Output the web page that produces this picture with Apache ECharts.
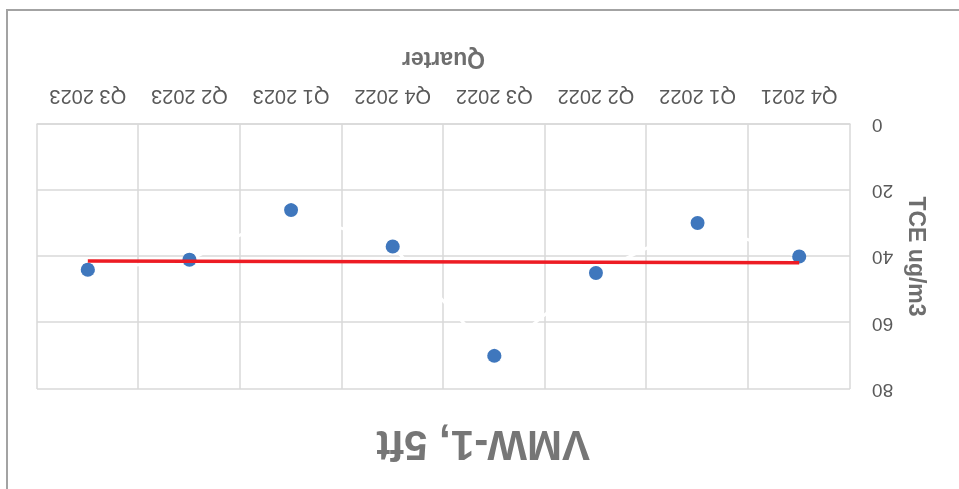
<!DOCTYPE html>
<html>
<head>
<meta charset="utf-8">
<script src="https://cdn.jsdelivr.net/npm/echarts@6/dist/echarts.min.js"></script>
<style>
  html, body { margin: 0; padding: 0; background: #fff; overflow: hidden; }
  #wrap { width: 959px; height: 489px; transform: rotate(180deg); transform-origin: 50% 50%; }
  #chart { width: 959px; height: 489px; }
</style>
</head>
<body>
<div id="wrap"><div id="chart"></div></div>
<script>
// Quarterly TCE readings at VMW-1, 5 ft
const quarters = ['Q4 2021', 'Q1 2022', 'Q2 2022', 'Q3 2022', 'Q4 2022', 'Q1 2023', 'Q2 2023', 'Q3 2023'];
const tceValues = [40.0, 29.9, 45.0, 70.0, 37.0, 26.0, 41.0, 44.0];
const yTicks = [0, 20, 40, 60, 80];

// Least-squares linear trend over the quarter index
function linearTrend(vals) {
  const n = vals.length;
  let sx = 0, sy = 0, sxy = 0, sxx = 0;
  vals.forEach((v, i) => { sx += i; sy += v; sxy += i * v; sxx += i * i; });
  const b = (n * sxy - sx * sy) / (n * sxx - sx * sx);
  const a = (sy - b * sx) / n;
  return vals.map((_, i) => +(a + b * i).toFixed(3));
}
const trend = linearTrend(tceValues);

const FONT = '"Liberation Sans", Arial, sans-serif';
const chart = echarts.init(document.getElementById('chart'), null, { renderer: 'canvas' });

chart.setOption({
  animation: false,
  backgroundColor: '#ffffff',
  title: {
    text: 'VMW-1, 5ft',
    left: 364,
    top: 20,
    textStyle: { fontFamily: FONT, fontSize: 42, fontWeight: 'bold', color: '#767676' }
  },
  graphic: [{
    type: 'rect',
    silent: true,
    shape: { x: -10, y: -10, width: 962, height: 489 },
    style: { fill: 'none', stroke: '#a3a3a3', lineWidth: 2 }
  }],
  grid: { left: 109, top: 100, width: 813, height: 265, containLabel: false },
  xAxis: {
    type: 'category',
    data: quarters,
    boundaryGap: true,
    name: 'Quarter',
    nameLocation: 'middle',
    nameGap: 54,
    nameTextStyle: { fontFamily: FONT, fontSize: 23, fontWeight: 'bold', color: '#6e6e6e' },
    axisLine: { show: true, lineStyle: { color: '#d9d9d9', width: 1.5 } },
    axisTick: { show: false },
    axisLabel: { fontFamily: FONT, fontSize: 20, color: '#595959', margin: 18 },
    splitLine: { show: true, lineStyle: { color: '#d9d9d9', width: 1.5 } }
  },
  yAxis: {
    type: 'value',
    min: yTicks[0],
    max: yTicks[yTicks.length - 1],
    interval: yTicks[1] - yTicks[0],
    name: 'TCE ug/m3',
    nameLocation: 'middle',
    nameRotate: 90,
    nameGap: 54,
    nameTextStyle: { fontFamily: FONT, fontSize: 23, fontWeight: 'bold', color: '#6e6e6e' },
    axisLine: { show: false },
    axisTick: { show: false },
    axisLabel: { fontFamily: FONT, fontSize: 19, color: '#595959', margin: 22 },
    splitLine: { show: true, lineStyle: { color: '#d9d9d9', width: 1.5 } }
  },
  series: [
    {
      name: 'TCE',
      type: 'line',
      data: tceValues,
      symbol: 'circle',
      symbolSize: 14,
      itemStyle: { color: '#3f77bd' },
      lineStyle: { color: '#ffffff', width: 3 },
      z: 3
    },
    {
      name: 'Linear (TCE)',
      type: 'line',
      data: trend,
      symbol: 'none',
      lineStyle: { color: '#ed1c24', width: 3.5 },
      z: 4
    }
  ]
});
</script>
</body>
</html>
